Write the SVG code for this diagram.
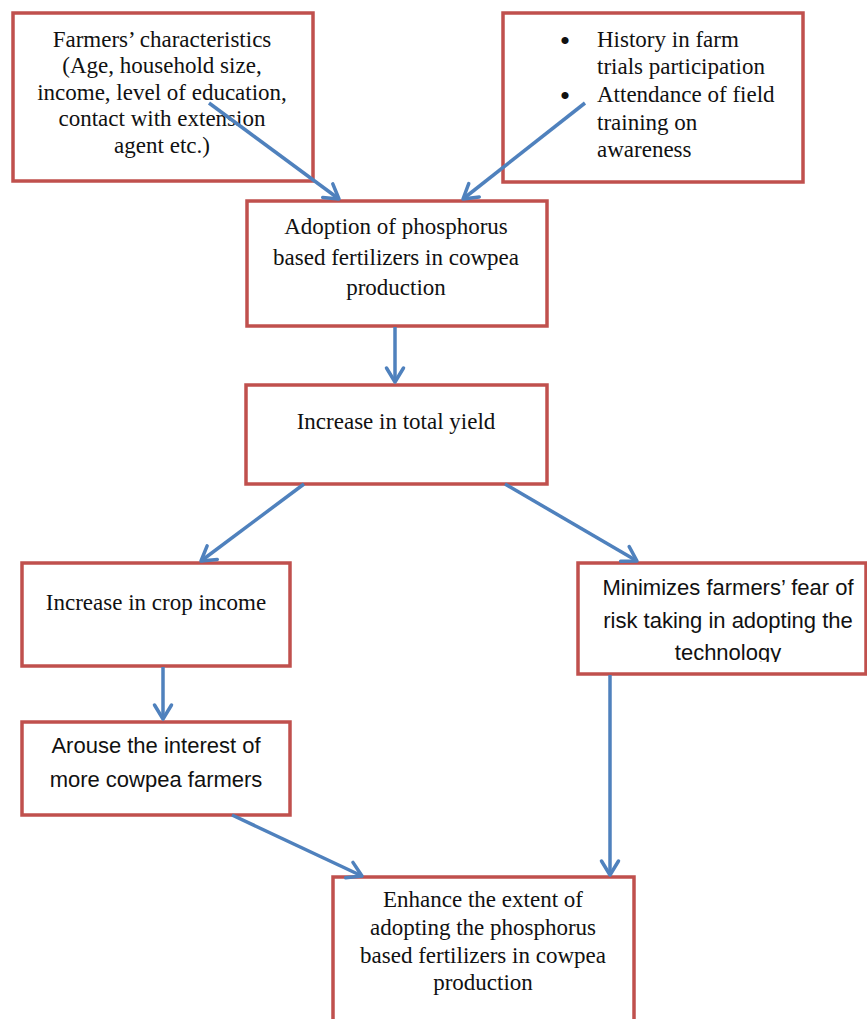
<svg xmlns="http://www.w3.org/2000/svg" width="867" height="1019" viewBox="0 0 867 1019">
<style>
.box{fill:#ffffff;stroke:#c0504d;stroke-width:3.5}
.serif{font-family:"Liberation Serif","Times New Roman",serif;font-size:23px;fill:#111111}
.sans{font-family:"Liberation Sans",Arial,sans-serif;font-size:22px;fill:#111111}
.c{text-anchor:middle}
.bullet{font-size:30px}
.conn{stroke:#4f81bd;stroke-width:3.5;fill:none;marker-end:url(#arr)}
</style>
<defs>
<marker id="arr" markerUnits="userSpaceOnUse" viewBox="-20 -12 24 24" markerWidth="24" markerHeight="24" refX="0" refY="0" orient="auto" overflow="visible">
<path d="M-14,-8.5 L0,0 L-14,8.5" fill="none" stroke="#4f81bd" stroke-width="3.5" stroke-linecap="round" stroke-linejoin="round"/>
</marker>
<clipPath id="clipMin"><rect x="580" y="565" width="286" height="97"/></clipPath>
</defs>
<rect width="867" height="1019" fill="#ffffff"/>
<g id="farmers">
<rect class="box" x="13" y="13" width="300" height="168"/>
<text class="serif c" x="162" y="46.5">Farmers’ characteristics</text>
<text class="serif c" x="162" y="73">(Age, household size,</text>
<text class="serif c" x="162" y="99.5">income, level of education,</text>
<text class="serif c" x="162" y="126">contact with extension</text>
<text class="serif c" x="162" y="152.5">agent etc.)</text>
</g>
<g id="history">
<rect class="box" x="503" y="13" width="300" height="169"/>
<text class="serif c bullet" x="565" y="51">•</text>
<text class="serif" x="597" y="47">History in farm</text>
<text class="serif" x="597" y="74">trials participation</text>
<text class="serif c bullet" x="565" y="106">•</text>
<text class="serif" x="597" y="102">Attendance of field</text>
<text class="serif" x="597" y="130">training on</text>
<text class="serif" x="597" y="157">awareness</text>
</g>
<g id="adoption">
<rect class="box" x="247" y="201" width="300" height="125"/>
<text class="serif c" x="396" y="234">Adoption of phosphorus</text>
<text class="serif c" x="396" y="264.5">based fertilizers in cowpea</text>
<text class="serif c" x="396" y="295">production</text>
</g>
<g id="yield">
<rect class="box" x="246" y="385" width="301" height="99"/>
<text class="serif c" x="396" y="429">Increase in total yield</text>
</g>
<g id="cropincome">
<rect class="box" x="22" y="563" width="268" height="103"/>
<text class="serif c" x="156" y="610">Increase in crop income</text>
</g>
<g id="arouse">
<rect class="box" x="22" y="722" width="268" height="93"/>
<text class="sans c" x="156" y="753">Arouse the interest of</text>
<text class="sans c" x="156" y="787">more cowpea farmers</text>
</g>
<g id="minimizes">
<rect class="box" x="578" y="563" width="288" height="111"/>
<g clip-path="url(#clipMin)">
<text class="sans c" x="728" y="595">Minimizes farmers’ fear of</text>
<text class="sans c" x="728" y="627.5">risk taking in adopting the</text>
<text class="sans c" x="728" y="660">technology</text>
</g>
</g>
<g id="enhance">
<rect class="box" x="333" y="877" width="301" height="160"/>
<text class="serif c" x="483" y="907">Enhance the extent of</text>
<text class="serif c" x="483" y="935">adopting the phosphorus</text>
<text class="serif c" x="483" y="963">based fertilizers in cowpea</text>
<text class="serif c" x="483" y="990">production</text>
</g>
<g id="connectors">
<line class="conn" x1="209" y1="103" x2="339" y2="199"/>
<line class="conn" x1="585" y1="103" x2="463" y2="199"/>
<line class="conn" x1="395" y1="327" x2="395" y2="382"/>
<line class="conn" x1="304" y1="484" x2="201" y2="561"/>
<line class="conn" x1="505" y1="484" x2="637" y2="561"/>
<line class="conn" x1="163" y1="667" x2="163" y2="719"/>
<line class="conn" x1="232" y1="815" x2="362" y2="876"/>
<line class="conn" x1="610" y1="675" x2="610" y2="875"/>
</g>
</svg>
